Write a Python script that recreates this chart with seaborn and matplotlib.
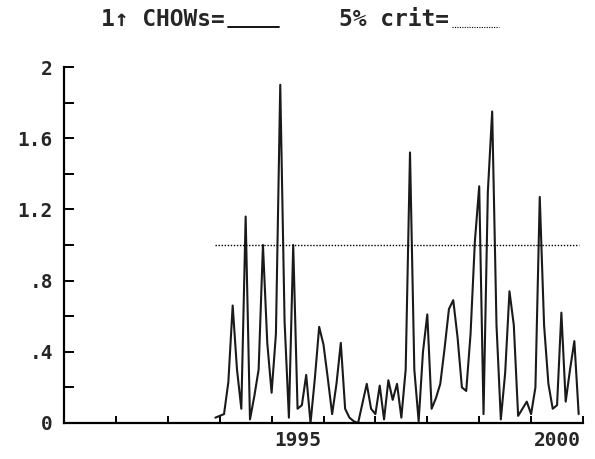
import numpy as np
import pandas as pd
import matplotlib
matplotlib.use('Agg')
import matplotlib.pyplot as plt
from matplotlib.lines import Line2D
import seaborn as sns

# 1-step Chow tests (scaled by 5% critical value), monthly 1993M12 - 2000M12
start_year = 1993
start_month = 12
chow = [0.03, 0.04, 0.05, 0.23, 0.66, 0.30, 0.08, 1.16, 0.02, 0.15,
        0.30, 1.00, 0.45, 0.17, 0.50, 1.90, 0.57, 0.03, 1.00, 0.08,
        0.10, 0.27, 0.00, 0.25, 0.54, 0.44, 0.25, 0.05, 0.22, 0.45,
        0.08, 0.03, 0.01, 0.00, 0.11, 0.22, 0.08, 0.05, 0.21, 0.02,
        0.24, 0.13, 0.22, 0.03, 0.30, 1.52, 0.30, 0.01, 0.40, 0.61,
        0.08, 0.14, 0.22, 0.42, 0.64, 0.69, 0.48, 0.20, 0.18, 0.50,
        1.02, 1.33, 0.05, 1.30, 1.75, 0.55, 0.02, 0.28, 0.74, 0.55,
        0.04, 0.08, 0.12, 0.05, 0.20, 1.27, 0.55, 0.22, 0.08, 0.10,
        0.62, 0.12, 0.30, 0.46, 0.05]
crit = [1.0] * len(chow)

year_ticks = list(range(1992, 2002))
year_labels = ['1995', '2000']
y_labels = ['0', '.4', '.8', '1.2', '1.6', '2']

sns.set_theme(style='white')
plt.rcParams['font.family'] = ['DejaVu Sans Mono', 'DejaVu Sans']
plt.rcParams['font.weight'] = 'bold'

t = start_year + (start_month - 1) / 12 + np.arange(len(chow)) / 12
df = pd.DataFrame({'t': t, 'chow': chow, 'crit': crit})

fig = plt.figure(figsize=(5.95, 4.59), dpi=100)
ax = fig.add_axes([64/595, 36/459, 519/595, 356/459])

sns.lineplot(data=df, x='t', y='chow', ax=ax, color='#1a1a1a', linewidth=1.5)
sns.lineplot(data=df, x='t', y='crit', ax=ax, color='black', linewidth=1.0,
             linestyle=(0, (1, 1.2)))

ax.set_xlim(1991, 2001)
ax.set_ylim(0, 2)
ax.set_xlabel('')
ax.set_ylabel('')

ax.set_xticks([1995.5, 2000.5])
ax.set_xticklabels(year_labels)
ax.set_xticks(year_ticks, minor=True)
ax.tick_params(axis='x', which='major', bottom=True, length=0, pad=6, labelsize=14)
ax.tick_params(axis='x', which='minor', bottom=True, direction='in', length=5,
               width=1.4, color='black')

ax.set_yticks([0, 0.4, 0.8, 1.2, 1.6, 2.0])
ax.set_yticklabels(y_labels)
ax.set_yticks(np.arange(0.2, 2.0, 0.4), minor=True)
ax.tick_params(axis='y', which='both', left=True, direction='in', length=7,
               width=1.4, color='black', pad=8, labelsize=14)

for s in ['top', 'right']:
    ax.spines[s].set_visible(False)
for s in ['left', 'bottom']:
    ax.spines[s].set_color('black')
    ax.spines[s].set_linewidth(1.6)

# header with line keys
ty = 1 - 20/459
fig.text(225/595, ty, '1\u2191 CHOWs=', fontsize=16.5, fontweight='bold', va='center', ha='right')
fig.text(449/595, ty, '5% crit=', fontsize=16.5, fontweight='bold', va='center', ha='right')
ly = 1 - 27/459
fig.add_artist(Line2D([228/595, 279/595], [ly, ly], transform=fig.transFigure,
                      color='black', linewidth=1.3))
fig.add_artist(Line2D([452/595, 499/595], [ly, ly], transform=fig.transFigure,
                      color='black', linewidth=0.8, linestyle=(0, (1, 1.2))))

fig.savefig('out.png', dpi=100)
